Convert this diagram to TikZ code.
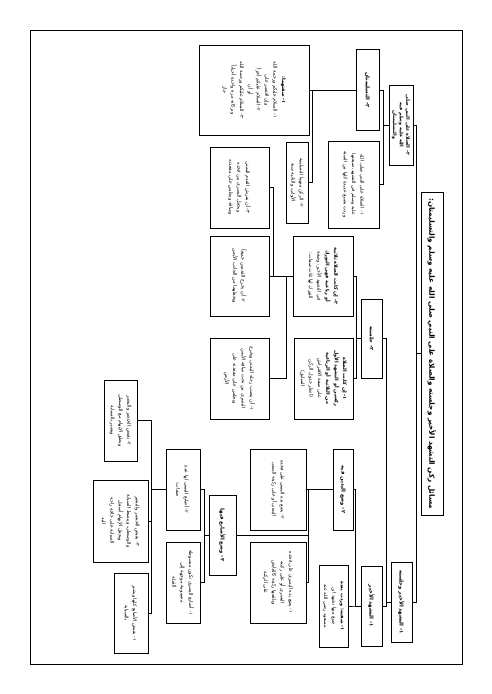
\documentclass[tikz,border=0pt]{standalone}
\usepackage{fontspec}
\newfontfamily\arabicfont[Script=Arabic]{DejaVu Sans}
\TeXXeTstate=1
\newcommand{\artxt}[1]{\beginR #1\endR}
\tikzset{
  box/.style={draw, line width=1pt, rotate=-90, align=center, inner sep=1pt,
    font=\arabicfont\fontsize{4.9}{8.4}\selectfont},
  headbox/.style={box, font=\arabicfont\bfseries\fontsize{5.3}{8.4}\selectfont},
  sz/.style n args={2}{minimum width=#1pt, minimum height=#2pt},
  fork/.style={line width=0.9pt}
}
\begin{document}
\begin{tikzpicture}[x=1pt, y=-1pt]
\useasboundingbox (0,0) rectangle (491,694);
\draw[line width=1pt] (30,30) rectangle (462,664);
% root and first level
\node[headbox, sz={323}{22}, font=\arabicfont\bfseries\fontsize{7.2}{9}\selectfont] (root) at (432,353.5)
  {\artxt{مسائل ركن التشهد الأخير وجلسته والصلاة على النبي صلى الله عليه وسلم والتسليمتان:}};
\node[headbox, sz={80}{24}, inner sep=0.5pt, font=\arabicfont\bfseries\fontsize{4.8}{6.6}\selectfont] (salah) at (401,125)
  {\artxt{٢- الصلاة على النبي صلى}\\\artxt{الله عليه وسلم فيه}\\\artxt{والتسليمتان}};
\node[headbox, sz={80}{21}] (tash) at (401.5,602) {\artxt{١- التشهد الأخير وجلسته}};
% salah branch
\node[headbox, sz={81}{23}] (taslim) at (367.5,90) {\artxt{٢- التسليمتان}};
\node[box, sz={87}{51}] (salahdef) at (353.5,184.5)
  {\artxt{١- الصلاة على النبي صلى الله}\\\artxt{عليه وسلم في التشهد، صيغتها}\\\artxt{وردت بصيغ عديدة كلها من السنة}};
\node[box, sz={90}{110}] (taslimform) at (254,90)
  {\artxt{\bfseries ١- صفتهما:}\\\artxt{١- السلام عليكم ورحمة الله}\\\artxt{وإن اقتصر على}\\\artxt{٢- السلام عليكم أجزأ}\\\artxt{أو أن}\\\artxt{٣- السلام عليكم ورحمة الله}\\\artxt{وبركاته مرة واحدة أحياناً}\\\artxt{جاز}};
\node[box, sz={81}{22}] (taslimrukn) at (297,182.5)
  {\artxt{٢- الركن منهما التسليمة}\\\artxt{الأولى، والثانية سنة}};
% tashahhud branch
\node[headbox, sz={79}{21}] (jalsa) at (371.5,338.5) {\artxt{٢- جلسته}};
\node[box, sz={80}{60}] (tawarruk) at (323,276)
  {\artxt{\bfseries ٢- إن كانت الصلاة ثلاثية}\\\artxt{\bfseries أو رباعية فهي التورك}\\\artxt{في التشهد الأخير، وصفة}\\\artxt{التورك لها ثلاث صفات:}};
\node[box, sz={81}{59}] (iftirash) at (323.5,378.5)
  {\artxt{\bfseries ١- إن كانت الصلاة}\\\artxt{\bfseries ركعتين أو التشهد الأول}\\\artxt{\bfseries من الثلاثية أو الرباعية}\\\artxt{على صفة الافتراش}\\\artxt{(انظر جدول الركن}\\\artxt{السابق)}};
\node[box, sz={80}{59}] (twb) at (239.5,276)
  {\artxt{٢- أن يخرج القدمين جميعاً}\\\artxt{ويجعلهما من الجانب الأيمن}};
\node[box, sz={81}{59}] (twa) at (239.5,378.5)
  {\artxt{١- أن ينصب رجله اليمنى ويخرج}\\\artxt{اليسرى من تحت ساقه الأيمن}\\\artxt{ويجلس على مقعدته على}\\\artxt{الأرض}};
\node[box, sz={81}{59}] (twc) at (239.5,187.5)
  {\artxt{٣- أن يفرش القدم اليمنى}\\\artxt{ويجعل اليسرى بين فخذه}\\\artxt{وساقه ويجلس على مقعدته}};
\node[headbox, sz={80}{21}] (tashahhud) at (371.5,606) {\artxt{١- التشهد الأخير}};
\node[box, sz={82}{29}] (sifa) at (333.5,606)
  {\artxt{\bfseries ١- صفته: وردت بعدة}\\\artxt{صيغ منها تشهد ابن}\\\artxt{مسعود رضي الله عنه}};
\node[headbox, sz={81}{20}] (yadayn) at (343,489.5) {\artxt{٢- وضع اليدين فيه}};
\node[box, sz={81}{56}] (yadb) at (278,489.5)
  {\artxt{٢- يضع يده اليمنى على فخذه}\\\artxt{اليمنى أو على ركبته اليمنى}};
\node[box, sz={81}{56}] (yada) at (278,582.5)
  {\artxt{١- يضع يده اليسرى على فخذه}\\\artxt{اليسرى أو على ركبته}\\\artxt{ويلقمها ركبته كالقابض}\\\artxt{على الركبة}};
\node[headbox, sz={80}{27}] (asabi) at (222.5,535) {\artxt{٣- وضع الأصابع فيها}};
\node[box, sz={81}{34}] (yumna) at (183,489.5)
  {\artxt{٢- أصابع اليمنى لها عدة}\\\artxt{صفات:}};
\node[box, sz={81}{34}] (yusra) at (183,582.5)
  {\artxt{١- أصابع اليسرى تكون مبسوطة}\\\artxt{مضمومة موجهة إلى}\\\artxt{القبلة}};
\node[box, sz={81}{33}] (sifab) at (120.5,420.5)
  {\artxt{٢- يقبض الخنصر والبنصر}\\\artxt{ويحلق الإبهام مع الوسطى}\\\artxt{ويشير بالسبابة}};
\node[box, sz={82}{55}] (sifac) at (120.5,521)
  {\artxt{٣- يقبض الخنصر والبنصر}\\\artxt{والوسطى، ويبسط السبابة}\\\artxt{ويجعل الإبهام أسفل}\\\artxt{السبابة على حافة راحة}\\\artxt{اليد}};
\node[box, sz={80}{34}] (sifaa) at (131,613)
  {\artxt{١- يقبض الأصابع كلها ويشير}\\\artxt{بالسبابة}};
% connectors: parent / distance to bus / child
\foreach \p/\d/\c in {root/4/salah, root/4/tash, salah/5/taslim, salah/5/salahdef,
  taslim/43/taslimform, taslim/43/taslimrukn, tash/4/jalsa, tash/4/tashahhud,
  jalsa/4/tawarruk, jalsa/4/iftirash, tawarruk/0/twb, tawarruk/6/twa, tawarruk/19/twc,
  tashahhud/5/yadayn, tashahhud/5/sifa, yadayn/24/yadb, yadayn/24/yada, yadayn/24/asabi,
  asabi/4/yumna, asabi/4/yusra, yumna/14/sifaa, yumna/14/sifab, yumna/14/sifac}
  \draw[fork] (\p.south) -- ++(-\d,0) |- (\c.north);
\end{tikzpicture}
\end{document}
